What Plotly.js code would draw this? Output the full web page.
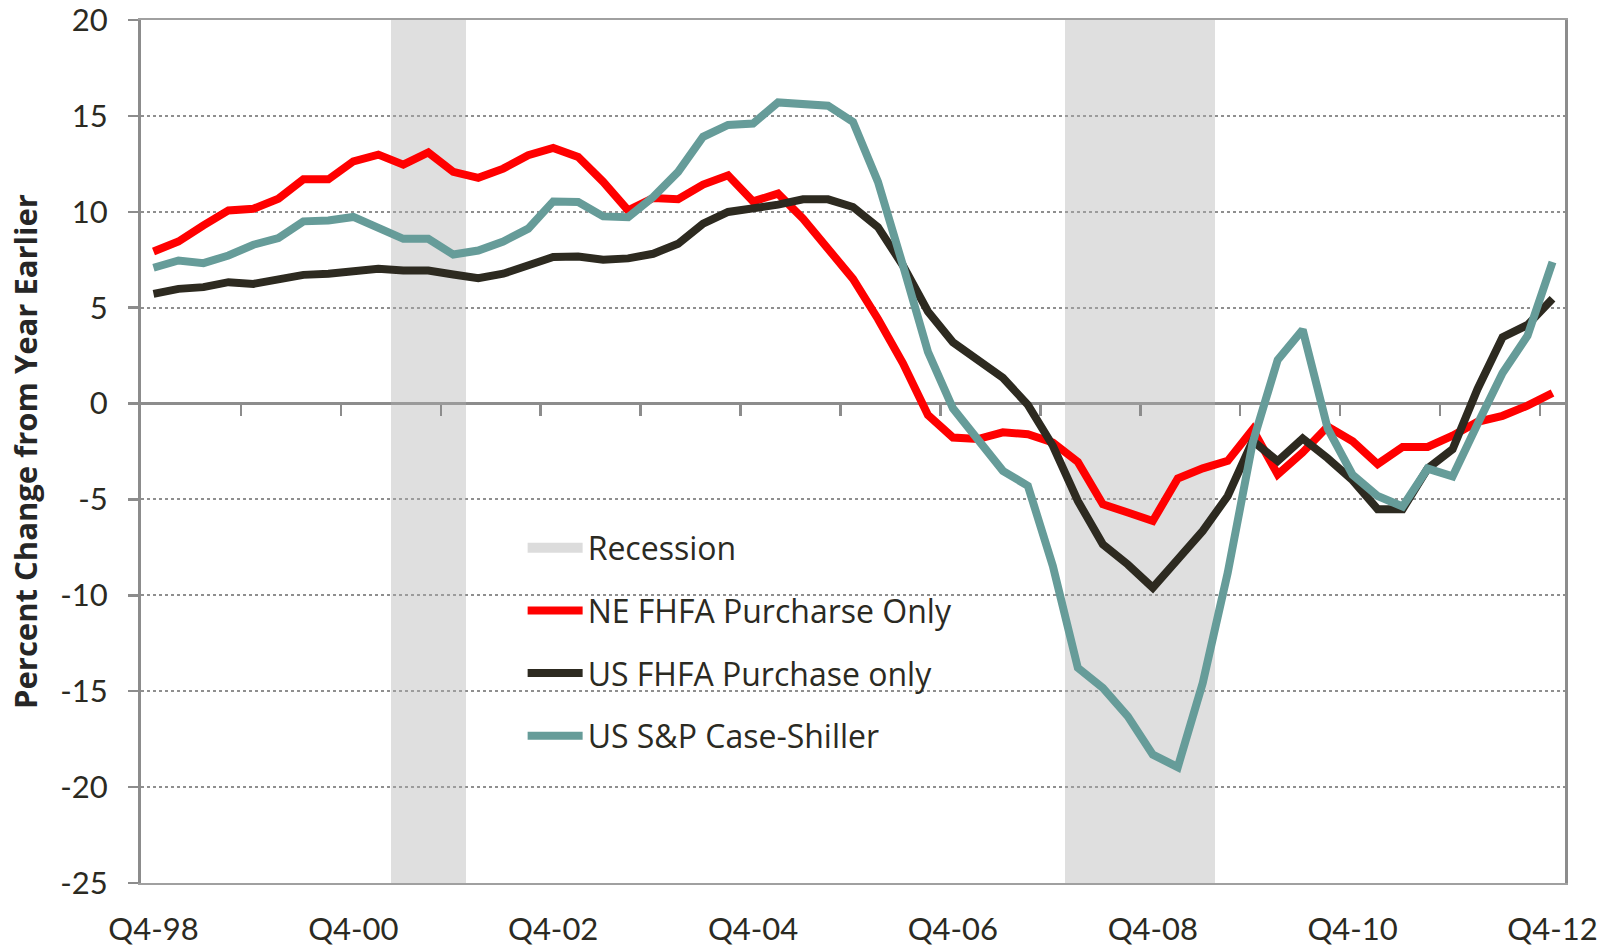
<!DOCTYPE html>
<html><head><meta charset="utf-8">
<script src="https://cdn.plot.ly/plotly-3.0.1.min.js"></script>
<style>html,body{margin:0;padding:0;background:#fff;overflow:hidden;} #chart{width:1606px;height:948px;}</style>
</head><body><div id="chart"></div>
<script>
const quarters = ['Q4-98',
 'Q1-99','Q2-99','Q3-99','Q4-99','Q1-00','Q2-00','Q3-00','Q4-00',
 'Q1-01','Q2-01','Q3-01','Q4-01','Q1-02','Q2-02','Q3-02','Q4-02',
 'Q1-03','Q2-03','Q3-03','Q4-03','Q1-04','Q2-04','Q3-04','Q4-04',
 'Q1-05','Q2-05','Q3-05','Q4-05','Q1-06','Q2-06','Q3-06','Q4-06',
 'Q1-07','Q2-07','Q3-07','Q4-07','Q1-08','Q2-08','Q3-08','Q4-08',
 'Q1-09','Q2-09','Q3-09','Q4-09','Q1-10','Q2-10','Q3-10','Q4-10',
 'Q1-11','Q2-11','Q3-11','Q4-11','Q1-12','Q2-12','Q3-12','Q4-12'];

const neFhfa = [7.93,8.45,9.29,10.07,10.16,10.68,11.69,11.69,12.63,12.98,12.46,13.09,12.08,11.77,12.25,12.95,13.33,12.86,11.56,10.07,
 10.72,10.65,11.42,11.9,10.54,10.95,9.64,8.07,6.5,4.41,2.1,-0.6,-1.77,-1.85,-1.5,-1.6,-2.03,-3.04,-5.25,-5.68,
 -6.12,-3.91,-3.38,-2.99,-1.35,-3.7,-2.55,-1.2,-1.97,-3.16,-2.26,-2.26,-1.68,-0.95,-0.64,-0.11,0.55];

const usFhfa = [5.72,5.98,6.07,6.33,6.24,6.5,6.71,6.77,6.94,7.03,6.94,6.94,6.73,6.54,6.77,7.2,7.64,7.67,7.5,7.57,
 7.81,8.33,9.38,9.99,10.16,10.37,10.65,10.65,10.25,9.2,7.2,4.8,3.2,2.24,1.34,-0.07,-2.2,-5.08,-7.34,-8.39,
 -9.6,-8.12,-6.64,-4.82,-1.95,-3.0,-1.82,-2.85,-4.0,-5.51,-5.51,-3.39,-2.38,0.76,3.46,4.1,5.46];

const caseShiller = [7.08,7.46,7.32,7.72,8.28,8.63,9.5,9.55,9.73,9.2,8.59,8.59,7.77,7.98,8.45,9.12,10.54,10.51,9.76,9.72,
 10.77,12.08,13.91,14.53,14.6,15.7,15.6,15.53,14.69,11.56,7.2,2.7,-0.25,-1.85,-3.51,-4.29,-8.47,-13.78,-14.83,-16.31,
 -18.31,-18.96,-14.57,-8.82,-2.03,2.28,3.85,-1.3,-3.72,-4.82,-5.37,-3.39,-3.8,-1.07,1.59,3.54,7.38];

const recessionQuarters = ['Q2-01','Q3-01','Q4-01','Q1-08','Q2-08','Q3-08','Q4-08','Q1-09','Q2-09'];

const tickLabels = ['Q4-98','Q4-00','Q4-02','Q4-04','Q4-06','Q4-08','Q4-10','Q4-12'];
const yTicks = [-25,-20,-15,-10,-5,0,5,10,15,20];

const Y_MIN = -25, Y_MAX = 20;
const textColor = '#2b2a22';
const axisGray = '#8c8c8c';
const recessionColor = 'rgba(175,175,175,0.40)';

const recessionTrace = {
  type: 'bar', name: 'Recession',
  x: recessionQuarters,
  y: recessionQuarters.map(() => Y_MAX - Y_MIN),
  base: Y_MIN,
  width: 1,
  marker: {color: recessionColor, line: {width: 0}},
  hoverinfo: 'skip',
  showlegend: false,
  legendgroup: 'g0'
};

// legend swatch for the recession shading (no visible data point)
const recessionLegend = {
  type: 'scatter', mode: 'lines', name: 'Recession',
  x: [recessionQuarters[0]], y: [null],
  line: {color: '#dcdcdc', width: 20}, legendgroup: 'g0', hoverinfo: 'skip'
};

function lineTrace(name, ys, color, grp) {
  return {type: 'scatter', mode: 'lines', name: name, x: quarters, y: ys,
    line: {color: color, width: 8, shape: 'linear'}, legendgroup: grp};
}

const traces = [
  recessionTrace,
  recessionLegend,
  lineTrace('NE FHFA Purcharse Only', neFhfa, '#ff0000', 'g1'),
  lineTrace('US FHFA Purchase only', usFhfa, '#2d2a20', 'g2'),
  lineTrace('US S&amp;P Case-Shiller', caseShiller, '#669c99', 'g3'),
  {type: 'scatter', x: [], y: [], xaxis: 'x2', showlegend: false, hoverinfo: 'skip'}
];

const n = quarters.length;
const boundaryTicks = [];
for (let k = 4; k < n; k += 4) boundaryTicks.push(k - 0.5);

const layout = {
  width: 1606, height: 948,
  margin: {l: 141, r: 41, t: 20, b: 65},
  paper_bgcolor: '#ffffff', plot_bgcolor: '#ffffff',
  font: {family: 'Lato, sans-serif', color: textColor},
  showlegend: true,
  bargap: 0,
  xaxis: {
    type: 'category', categoryorder: 'array', categoryarray: quarters,
    range: [-0.5, n - 0.5],
    tickmode: 'array', tickvals: tickLabels, ticktext: tickLabels,
    tickfont: {family: 'Lato, sans-serif', size: 31, color: textColor},
    ticks: '', ticklabelstandoff: 18, ticklabeloverflow: 'allow',
    showgrid: false, zeroline: false,
    showline: true, mirror: true, linecolor: '#a0a0a0', linewidth: 2
  },
  xaxis2: {
    overlaying: 'x', anchor: 'free', position: (0 - Y_MIN) / (Y_MAX - Y_MIN),
    type: 'linear', range: [-0.5, n - 0.5],
    tickmode: 'array', tickvals: boundaryTicks, showticklabels: false,
    ticks: 'outside', ticklen: 11, tickwidth: 2.5, tickcolor: axisGray,
    showgrid: false, zeroline: false, showline: false, fixedrange: true
  },
  yaxis: {
    range: [Y_MIN, Y_MAX], domain: [0, 1],
    tickmode: 'array', tickvals: yTicks, ticktext: yTicks.map(String),
    tickfont: {family: 'Lato, sans-serif', size: 31, color: textColor},
    ticks: 'outside', ticklen: 10, tickwidth: 2.5, tickcolor: axisGray,
    ticklabelstandoff: 14, ticklabeloverflow: 'allow',
    showgrid: true, gridcolor: '#8f8f8f', gridwidth: 2, griddash: 'dot',
    zeroline: true, zerolinecolor: axisGray, zerolinewidth: 3,
    showline: true, mirror: true, linecolor: axisGray, linewidth: 3,
    title: {text: 'Percent Change from Year Earlier', standoff: 14,
      font: {family: 'Open Sans, sans-serif', size: 31, color: '#262626', weight: 'bold'}}
  },
  legend: {
    x: 0.268, xanchor: 'left', y: 0.42, yanchor: 'top',
    bgcolor: 'rgba(0,0,0,0)', borderwidth: 0,
    font: {family: 'Open Sans, sans-serif', size: 32, color: textColor},
    traceorder: 'grouped', tracegroupgap: 18, itemwidth: 55
  }
};

Plotly.newPlot('chart', traces, layout, {displayModeBar: false, staticPlot: true});
</script></body></html>
